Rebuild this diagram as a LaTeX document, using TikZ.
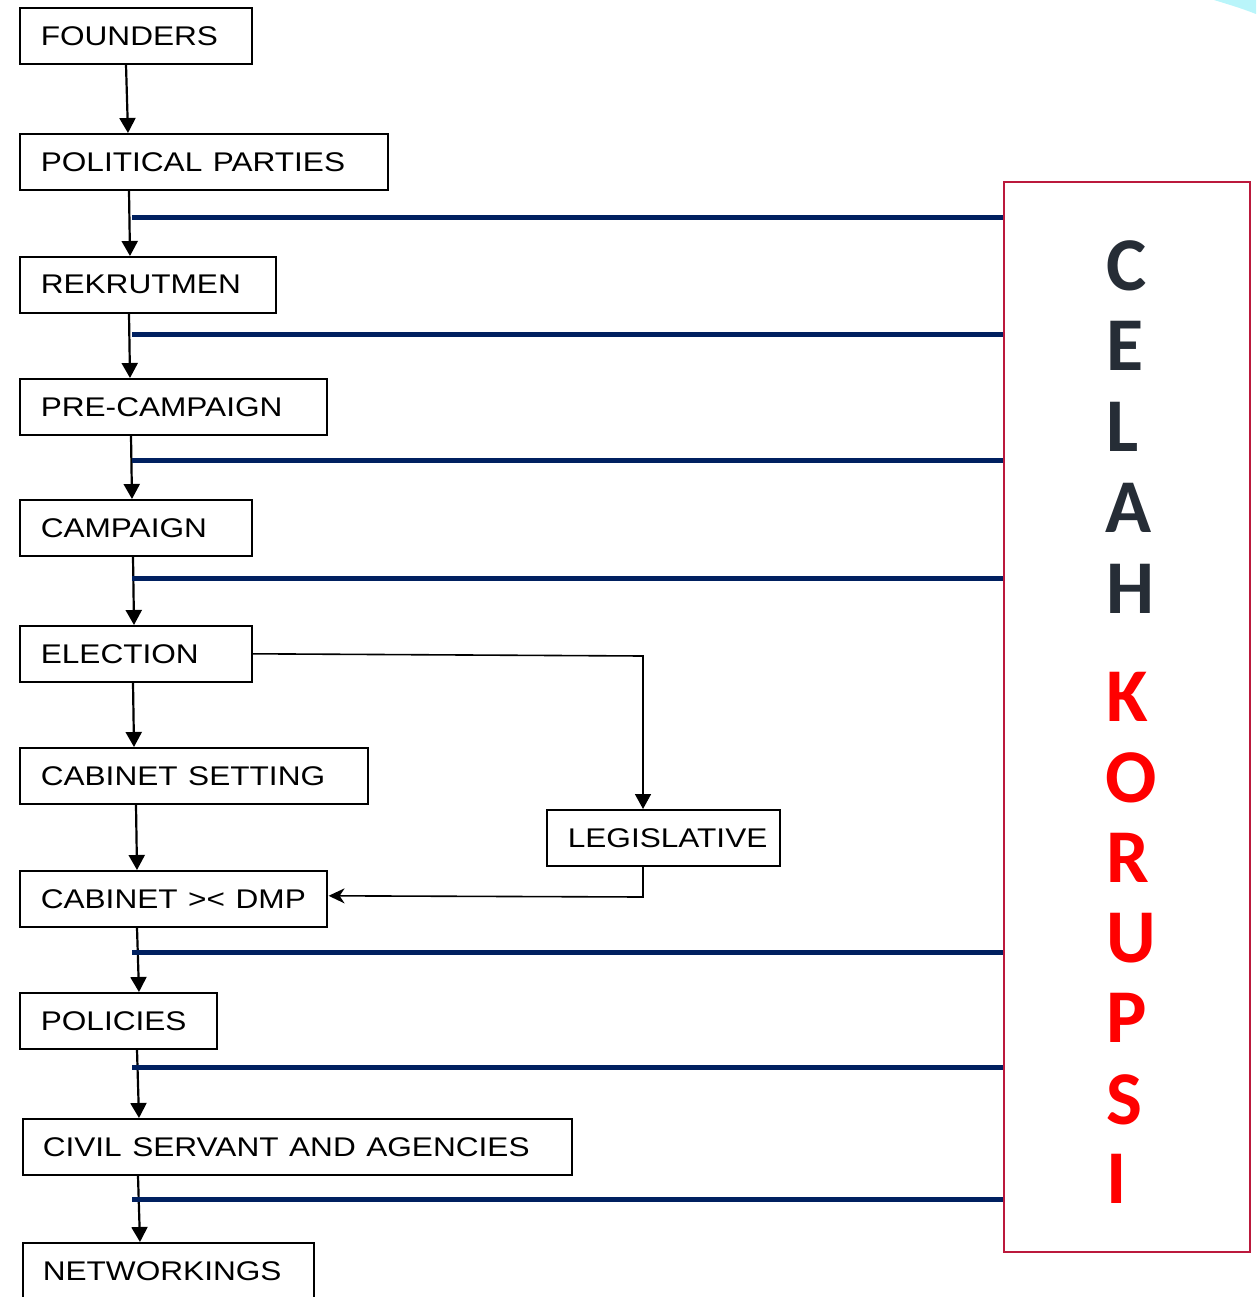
\documentclass[tikz,border=0pt]{standalone}
\usepackage{fontspec}
\setmainfont{Liberation Sans}
\newfontfamily\celahfont{Carlito}
\usetikzlibrary{arrows.meta}
\definecolor{navyline}{RGB}{0,32,96}
\definecolor{crimsonbox}{RGB}{187,25,60}
\definecolor{darkletter}{RGB}{38,45,54}
\definecolor{redletter}{RGB}{255,0,0}
\definecolor{cyanstreak}{RGB}{185,245,250}
\newcommand\bt[1]{\scalebox{1.17}[1]{#1}}
\tikzset{
  box/.style={draw, line width=1.6pt, anchor=north west, minimum height=56pt,
    inner xsep=21pt, inner ysep=0pt, align=left,
    font=\fontsize{27}{31}\selectfont},
  flow/.style={line width=2.2pt, -{Triangle[length=15pt,width=16pt]}},
  elbow/.style={line width=1.6pt},
  blueline/.style={line width=5pt, draw=navyline},
  letter/.style={anchor=base west, inner sep=0pt, font=\celahfont\bfseries\fontsize{76}{80}\selectfont}
}
\begin{document}
\begin{tikzpicture}[x=1pt,y=-1pt]
\useasboundingbox (0,0) rectangle (1256,1297);
\fill[cyanstreak] (1214,0) -- (1256,0) -- (1256,14) .. controls (1240,8) .. cycle;

% boxes
\node[box, text width=190pt] (founders) at (19,7) {\bt{FOUNDERS}};
\node[box, text width=326pt] (parties) at (19,133) {\bt{POLITICAL PARTIES}};
\node[box, text width=214pt] (rekrut) at (19,256) {\bt{REKRUTMEN}};
\node[box, text width=265pt] (precamp) at (19,378) {\bt{PRE-CAMPAIGN}};
\node[box, text width=190pt] (campaign) at (19,499) {\bt{CAMPAIGN}};
\node[box, text width=190pt] (election) at (19,625) {\bt{ELECTION}};
\node[box, text width=306pt] (cabset) at (19,747) {\bt{CABINET SETTING}};
\node[box, text width=265pt] (dmp) at (19,870) {\bt{CABINET >< DMP}};
\node[box, text width=155pt] (policies) at (19,992) {\bt{POLICIES}};
\node[box, inner xsep=20pt, text width=509pt] (civil) at (22,1118) {\bt{CIVIL SERVANT AND AGENCIES}};
\node[box, inner xsep=20pt, text width=251pt] (network) at (22,1242) {\bt{NETWORKINGS}};
\node[box, text width=191pt] (legis) at (546,809) {\bt{LEGISLATIVE}};

% red box
\node[draw=crimsonbox, line width=2pt, anchor=north west, minimum width=246pt, minimum height=1070pt, inner sep=0pt] (redbox) at (1003,181) {};

% vertical flow arrows
\draw[flow] ([xshift=107pt]founders.south west) -- ([xshift=109pt]parties.north west);
\draw[flow] ([xshift=110pt]parties.south west) -- ([xshift=111pt]rekrut.north west);
\draw[flow] ([xshift=110pt]rekrut.south west) -- ([xshift=111pt]precamp.north west);
\draw[flow] ([xshift=112pt]precamp.south west) -- ([xshift=113pt]campaign.north west);
\draw[flow] ([xshift=114pt]campaign.south west) -- ([xshift=115pt]election.north west);
\draw[flow] ([xshift=114pt]election.south west) -- ([xshift=115pt]cabset.north west);
\draw[flow] ([xshift=117pt]cabset.south west) -- ([xshift=118pt]dmp.north west);
\draw[flow] ([xshift=118pt]dmp.south west) -- ([xshift=120pt]policies.north west);
\draw[flow] ([xshift=118pt]policies.south west) -- ([xshift=117pt]civil.north west);
\draw[flow] ([xshift=116pt]civil.south west) -- ([xshift=118pt]network.north west);

% elbow connectors
\coordinate (e1) at (643,656);
\draw[elbow, -{Triangle[length=15pt,width=16pt]}] (election.east) -- (e1) -- ([xshift=97pt]legis.north west);
\coordinate (e2) at (643,897);
\draw[elbow, -{Stealth[length=16pt,width=15pt,inset=5pt]}] ([xshift=97pt]legis.south west) -- (e2) -- ([yshift=3pt,xshift=1pt]dmp.east);

% blue lines
\foreach \n/\yy in {1/218,2/334,3/460,4/578,5/952,6/1067,7/1199}{
  \coordinate (b\n) at (132,\yy);
  \draw[blueline] (b\n) -- (b\n -| redbox.west);
}

% letters
\node[letter, text=darkletter] (lc) at (1106,290) {C};
\node[letter, text=darkletter] (le) at (1106,370) {E};
\node[letter, text=darkletter] (ll) at (1106,451) {L};
\node[letter, text=darkletter] (la) at (1105,532) {A};
\node[letter, text=darkletter] (lh) at (1106,613) {H};
\node[letter, text=redletter] (lk) at (1106,721) {K};
\node[letter, text=redletter] (lo) at (1105,802) {O};
\node[letter, text=redletter] (lr) at (1106,882) {R};
\node[letter, text=redletter] (lu) at (1106,962) {U};
\node[letter, text=redletter] (lp) at (1106,1042) {P};
\node[letter, text=redletter] (ls) at (1106,1124) {S};
\node[letter, text=redletter] (li) at (1106,1203) {I};
\end{tikzpicture}
\end{document}
